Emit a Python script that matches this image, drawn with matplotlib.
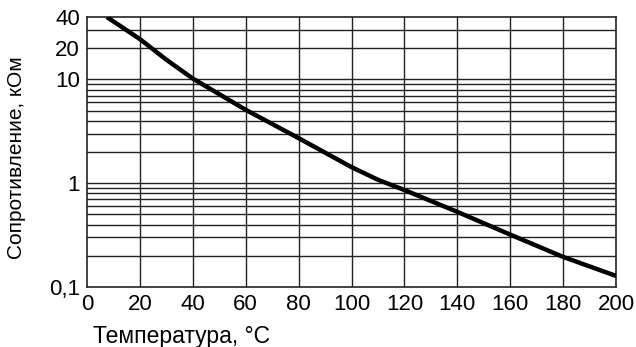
import numpy as np
import matplotlib.pyplot as plt
from matplotlib.ticker import FixedLocator, NullFormatter

plt.rcParams['font.family'] = ['Liberation Sans', 'DejaVu Sans']

# Data
temp = [7.5, 20, 30, 40, 60, 80, 100, 110, 120, 140, 160, 180, 200]
resist = [40, 24.5, 15.5, 10.2, 5.1, 2.72, 1.43, 1.08, 0.86, 0.53, 0.32, 0.195, 0.128]

x_ticks = [0, 20, 40, 60, 80, 100, 120, 140, 160, 180, 200]
y_ticks = [0.1, 1, 10, 20, 40]
y_tick_labels = ['0,1', '1', '10', '20', '40']
y_grid = [0.2, 0.3, 0.4, 0.5, 0.6, 0.7, 0.8, 0.9, 1,
          2, 3, 4, 5, 6, 7, 8, 9, 10, 20, 30]

fig = plt.figure(figsize=(6.36, 3.47), dpi=100)
ax = fig.add_axes([87 / 636, 1 - 287 / 347, 529 / 636, 270 / 347])

ax.set_yscale('log')
ax.set_xlim(0, 200)
ax.set_ylim(0.1, 40)

for v in y_grid:
    ax.axhline(v, color='#222222', lw=1.0, zorder=1)
for v in x_ticks[1:-1]:
    ax.axvline(v, color='#222222', lw=1.0, zorder=1)

ax.plot(temp, resist, color='black', lw=3.2, solid_capstyle='butt', zorder=3)

ax.xaxis.set_major_locator(FixedLocator(x_ticks))
ax.yaxis.set_major_locator(FixedLocator(y_ticks))
ax.yaxis.set_minor_locator(FixedLocator([]))
ax.yaxis.set_minor_formatter(NullFormatter())
ax.set_yticklabels(y_tick_labels)
ax.tick_params(axis='both', length=0, labelsize=16, pad=5)
for s in ax.spines.values():
    s.set_color('#222222')
    s.set_linewidth(1.2)

fig.text(17 / 636, 1 - 158 / 347, 'Сопротивление, кОм', rotation=90,
         ha='center', va='center', fontsize=15)
fig.text(93 / 636, 1 - 336 / 347, 'Температура, °C', ha='left', va='center',
         fontsize=16.5)

fig.savefig('out.png', dpi=100)
